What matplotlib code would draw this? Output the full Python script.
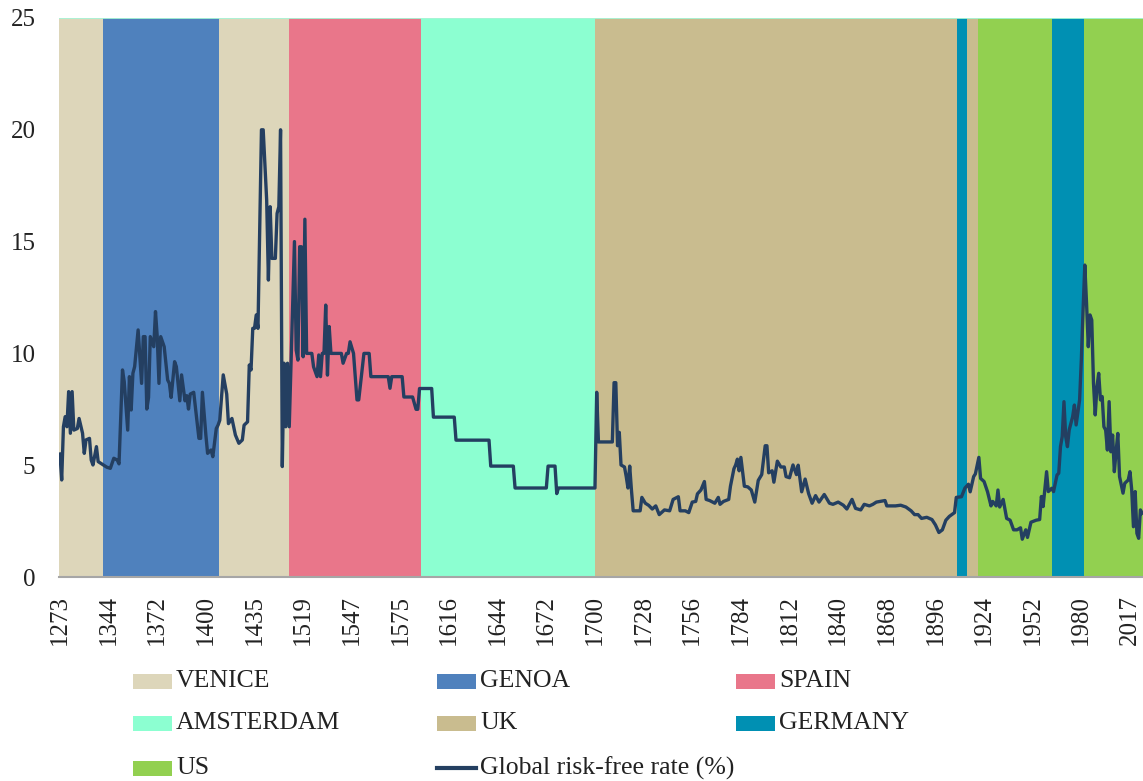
import matplotlib
matplotlib.use("Agg")
import matplotlib.pyplot as plt
from matplotlib.patches import Rectangle
from matplotlib.lines import Line2D

# ---------------- data ----------------
# observation number on the category axis (one category per data row)
obs = [0, 1, 2, 3, 4, 5, 6, 7, 8, 10, 11, 13, 14, 15, 17, 18, 19, 21, 22, 24,
       27, 29, 31, 33, 34, 36, 37, 39, 40, 41, 42, 43, 45, 47, 48, 49, 50, 51, 52, 54,
       55, 56, 57, 58, 60, 62, 63, 64, 66, 67, 69, 70, 72, 73, 74, 75, 77, 80, 81, 82,
       84, 85, 87, 88, 90, 91, 92, 94, 96, 97, 99, 101, 103, 105, 106, 108, 109, 110, 111, 112,
       113, 114, 116, 117, 119, 120, 121, 122, 124, 125, 126, 127, 128, 129, 130, 131, 132, 135, 136, 137,
       138, 139, 140, 141, 142, 145, 146, 148, 149, 150, 151, 152, 153, 154, 155, 156, 162, 163, 165, 166,
       167, 169, 171, 172, 175, 178, 179, 189, 190, 191, 197, 198, 203, 205, 206, 207, 214, 215, 227, 228,
       247, 248, 261, 262, 280, 281, 285, 286, 287, 308, 309, 310, 318, 319, 320, 321, 322, 323, 325, 326,
       327, 328, 329, 330, 334, 335, 337, 339, 341, 343, 345, 348, 351, 353, 356, 357, 360, 362, 364, 366,
       367, 369, 371, 372, 374, 377, 379, 380, 382, 385, 386, 388, 389, 390, 391, 392, 394, 396, 398, 400,
       402, 404, 406, 407, 408, 410, 411, 413, 415, 417, 418, 420, 422, 424, 425, 427, 429, 431, 433, 435,
       437, 440, 443, 445, 448, 451, 453, 456, 458, 461, 463, 466, 468, 470, 475, 476, 481, 484, 487, 490,
       492, 494, 496, 499, 502, 504, 506, 508, 510, 512, 515, 516, 519, 521, 523, 524, 526, 527, 529, 530,
       532, 534, 536, 537, 539, 540, 541, 543, 545, 547, 549, 551, 553, 554, 556, 557, 559, 562, 564, 565,
       566, 568, 569, 571, 572, 574, 575, 576, 577, 578, 579, 580, 581, 583, 584, 585, 587, 588, 589, 590,
       591, 592, 593, 594, 595, 596, 597, 598, 599, 600, 601, 602, 603, 604, 605, 606, 607, 608, 609, 610,
       612, 613, 615, 616, 617, 618, 619, 620, 621, 622, 623]

rate = [5.5, 4.34, 6.72, 7.17, 6.72, 8.29, 6.43, 8.29, 6.57, 6.64, 7.09, 6.43, 5.53, 6.13, 6.2, 5.23, 5.01, 5.83, 5.16, 5.06,
        4.91, 4.86, 5.31, 5.23, 5.06, 9.26, 8.74, 6.57, 8.96, 7.47, 9.11, 9.41, 11.05, 8.66, 10.75, 10.75, 7.51, 8.03, 10.75, 10.3,
        11.87, 10.75, 8.66, 10.75, 10.3, 8.81, 8.66, 8.03, 9.63, 9.41, 7.88, 9.04, 7.88, 8.11, 7.51, 8.18, 8.26, 6.2, 6.2, 8.26,
        6.35, 5.53, 5.68, 5.38, 6.64, 6.79, 7.01, 9.04, 8.18, 6.86, 7.09, 6.35, 5.98, 6.13, 6.79, 6.94, 9.48, 9.26, 11.12, 11.12,
        11.72, 11.12, 20.0, 20.0, 16.86, 13.28, 16.56, 14.25, 14.25, 16.26, 16.56, 20.0, 4.94, 9.56, 6.72, 9.56, 6.72, 15.0, 10.15, 9.7,
        14.77, 14.77, 9.85, 16.0, 10.0, 10.0, 9.4, 8.96, 9.93, 8.96, 10.0, 10.0, 12.16, 9.03, 11.2, 10.0, 10.0, 9.56, 10.0, 10.0,
        10.52, 10.0, 7.92, 7.92, 10.0, 10.0, 8.96, 8.96, 8.44, 8.96, 8.96, 8.05, 8.05, 7.5, 7.5, 8.43, 8.43, 7.15, 7.15, 6.12,
        6.12, 4.96, 4.96, 3.98, 3.98, 4.96, 4.96, 3.73, 3.98, 3.98, 8.26, 6.04, 6.04, 8.69, 8.69, 5.87, 6.47, 5.01, 4.92, 4.49,
        3.98, 4.96, 3.89, 2.96, 2.96, 3.56, 3.3, 3.2, 3.04, 3.18, 2.79, 3.0, 2.96, 3.47, 3.59, 2.96, 2.96, 2.88, 3.35, 3.38,
        3.72, 3.89, 4.27, 3.47, 3.42, 3.3, 3.56, 3.25, 3.38, 3.47, 4.06, 4.84, 5.01, 5.27, 4.75, 5.35, 4.06, 4.03, 3.89, 3.35,
        4.32, 4.58, 5.87, 5.87, 4.66, 4.75, 4.24, 5.18, 4.92, 4.92, 4.49, 4.44, 5.01, 4.58, 5.0, 3.81, 4.38, 3.73, 3.3, 3.64,
        3.35, 3.69, 3.3, 3.25, 3.35, 3.21, 3.04, 3.47, 3.07, 3.0, 3.25, 3.18, 3.25, 3.35, 3.42, 3.18, 3.18, 3.21, 3.13, 2.96,
        2.79, 2.79, 2.62, 2.67, 2.57, 2.33, 1.99, 2.11, 2.54, 2.71, 2.88, 3.56, 3.59, 3.98, 4.15, 3.81, 4.49, 4.61, 5.35, 4.41,
        4.27, 3.81, 3.18, 3.38, 3.18, 3.89, 3.13, 3.47, 2.62, 2.54, 2.11, 2.11, 2.2, 1.69, 2.11, 1.77, 2.45, 2.54, 2.57, 3.6,
        3.15, 4.71, 3.82, 3.97, 3.82, 4.56, 4.64, 5.83, 6.28, 7.84, 6.28, 5.83, 6.57, 7.17, 7.69, 6.8, 7.92, 9.71, 11.94, 13.95,
        12.24, 10.3, 11.72, 11.49, 8.66, 7.25, 8.51, 9.11, 7.92, 8.07, 6.72, 6.57, 5.68, 7.84, 5.6, 6.35, 4.71, 5.6, 6.42, 4.49,
        3.75, 4.19, 4.34, 4.71, 3.9, 2.25, 3.82, 1.95, 1.73, 3.0, 2.85]

tick_labels = ["1273", "1344", "1372", "1400", "1435", "1519", "1547", "1575", "1616", "1644",
               "1672", "1700", "1728", "1756", "1784", "1812", "1840", "1868", "1896", "1924",
               "1952", "1980", "2017"]
label_every = 28

# safe-asset provider periods, in category positions
period_names = ["VENICE", "GENOA", "VENICE", "SPAIN", "AMSTERDAM", "UK",
                "GERMANY", "UK", "US", "GERMANY", "US"]
period_start = [-0.55, 24.5, 91.5, 132.0, 207.7, 308.0, 516.6, 522.3, 528.3, 570.9, 589.5]
last_category = 623.5

colors = {
    "VENICE": "#DDD6BA",
    "GENOA": "#4F81BD",
    "SPAIN": "#E9768A",
    "AMSTERDAM": "#8CFFD1",
    "UK": "#C9BC8F",
    "GERMANY": "#0090B3",
    "US": "#92D050",
}
line_color = "#243F61"
line_label = "Global risk-free rate (%)"

# ---------------- figure ----------------
plt.rcParams["font.family"] = ["Liberation Serif", "DejaVu Serif"]
W, H = 1143, 781
fig = plt.figure(figsize=(W / 100, H / 100), dpi=100)
ax = fig.add_axes([59 / W, 1 - 577 / H, 1084 / W, 559 / H])

period_end = period_start[1:] + [last_category]
for name, s, e in zip(period_names, period_start, period_end):
    ax.axvspan(s, e, color=colors[name], lw=0, zorder=0)

ax.plot(obs, rate, color=line_color, lw=2.4, solid_joinstyle="round", zorder=3)
ax.axhline(25, color="#A8F5D6", lw=1.3, zorder=2)

ax.set_xlim(-0.55, last_category)
ax.set_ylim(0, 25)
ax.set_yticks(range(0, 26, 5))
ax.set_xticks([i * label_every for i in range(len(tick_labels))])
ax.set_xticklabels(tick_labels, rotation=90)
ax.tick_params(axis="both", length=0, labelsize=18, colors="#222222")
ax.tick_params(axis="x", pad=13)
ax.tick_params(axis="y", pad=17)
for sp in ["top", "left", "right"]:
    ax.spines[sp].set_visible(False)
ax.spines["bottom"].set_color("#A6A6A6")
ax.spines["bottom"].set_linewidth(1.5)

# ---------------- legend (Excel-style grid) ----------------
legend_items = [
    ("VENICE", 133, 681), ("GENOA", 437, 681), ("SPAIN", 736, 681),
    ("AMSTERDAM", 133, 723), ("UK", 437, 723), ("GERMANY", 736, 723),
    ("US", 133, 768),
]
pw, ph = 39, 15
for name, x0, yc in legend_items:
    fig.add_artist(Rectangle((x0 / W, 1 - (yc + ph / 2) / H), pw / W, ph / H,
                             transform=fig.transFigure, facecolor=colors[name],
                             edgecolor="none"))
    fig.text((x0 + pw + 4) / W, 1 - yc / H, name, ha="left", va="center",
             fontsize=18.5, color="#222222")
fig.add_artist(Line2D([437 / W, 476 / W], [1 - 768 / H] * 2, transform=fig.transFigure,
                      color=line_color, lw=3))
fig.text((476 + 4) / W, 1 - 768 / H, line_label, ha="left", va="center",
         fontsize=18.5, color="#222222")

fig.savefig("out.png", dpi=100)
